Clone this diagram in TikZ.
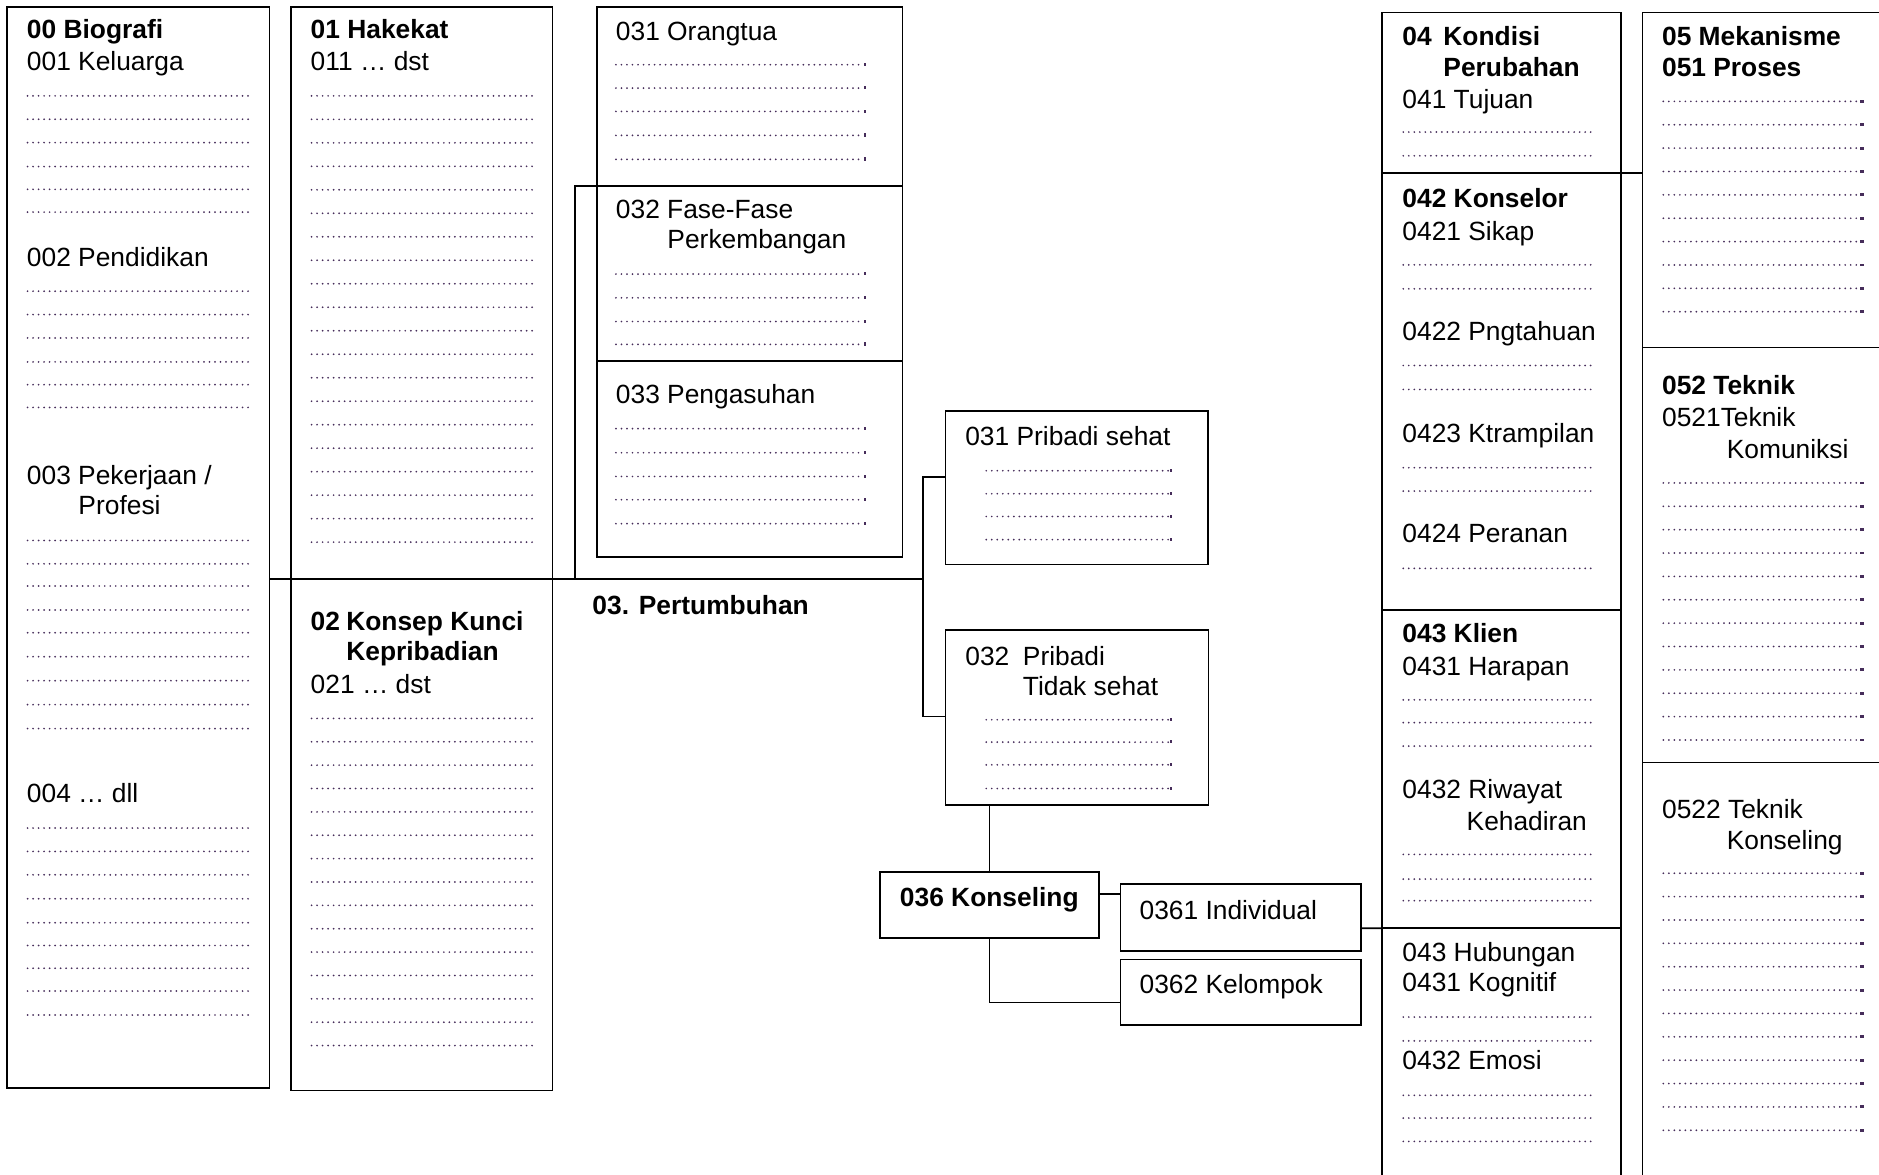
\documentclass[tikz,border=0pt]{standalone}
\usepackage{fontspec}
\setmainfont{Liberation Sans}
\usetikzlibrary{fit}
\definecolor{dotc}{RGB}{70,45,90}
\newcommand{\fs}{\fontsize{22}{26}\selectfont}
\tikzset{
  box/.style={draw, line width=1.4pt, inner sep=0pt, outer sep=0pt},
  txt/.style={anchor=base west, inner sep=0pt, outer sep=0pt, font=\fs},
  btxt/.style={txt, font=\fs\bfseries},
  leader/.style={draw=dotc, line width=1.6pt, dash pattern=on 0pt off 4.6pt, line cap=round},
  conn/.style={draw, line width=1.4pt}
}
\newcommand{\mkbox}[5]{\node[box, fit={(#2,#3)(#4,#5)}] (#1) {};}
\newcommand{\mktxt}[4]{\node[txt] (#1) at (#2,#3) {#4};}
\newcommand{\mkbold}[4]{\node[btxt] (#1) at (#2,#3) {#4};}
\newcommand{\dotrows}[3]{\foreach \yy in {#3} {\draw[leader] (#1,\yy) -- (#2,\yy);}}
\newcommand{\dotrowsend}[3]{\foreach \yy in {#3} {\draw[leader] (#1,\yy) -- (#2,\yy); \fill[dotc] (#2+1.2,\yy-1.6) rectangle (#2+3,\yy+1);}}
\newcommand{\dotrowssq}[3]{\foreach \yy in {#3} {\draw[leader] (#1,\yy) -- (#2,\yy); \fill[dotc] (#2+2.5,\yy-1.2) rectangle (#2+5.5,\yy+1.2);}}
\begin{document}
\begin{tikzpicture}[x=1pt,y=-1pt]
\useasboundingbox (0,0) rectangle (1568,980);
\clip (0,0) rectangle (1568,980);

% ---------- boxes ----------
\mkbox{b00}{6}{6}{225}{908}
\mkbox{b01}{243}{6}{461}{483}
\mkbox{b02}{243}{483}{461}{910}
\mkbox{b031}{498}{6}{753}{155}
\mkbox{b032}{498}{155}{753}{301}
\mkbox{b033}{498}{301}{753}{465}
\mkbox{ps}{789}{343}{1008}{471}
\mkbox{pts}{789}{525.5}{1008.5}{671.5}
\mkbox{kon}{734.5}{727.8}{917}{782.6}
\mkbox{ind}{935}{737.8}{1136}{793.5}
\mkbox{kel}{935}{800.6}{1136}{855.5}
\mkbox{b04a}{1153.5}{10.5}{1352.6}{144.4}
\mkbox{b042}{1153.5}{144.4}{1352.6}{508.8}
\mkbox{b043}{1153.5}{508.8}{1352.6}{774.6}
\mkbox{b043h}{1153.5}{774.6}{1352.6}{1000}
\mkbox{b05a}{1370.6}{10.5}{1600}{290}
\mkbox{b052}{1370.6}{290}{1600}{636.3}
\mkbox{b0522}{1370.6}{636.3}{1600}{1000}

% ---------- connectors ----------
\coordinate (hub) at (770.5,483);
\coordinate (k480) at (480,483);
\draw[conn] (b00.east |- hub) -- (hub);
\draw[conn] (b032.north west) -| (k480);
\draw[conn] (ps.north west) ++(0,55) -| (hub);
\draw[conn] (pts.north west) ++(0,72.5) -| (hub);
\draw[conn] (kon.north) -- (kon.north |- pts.south);
\path (kon.north east) ++(0,18.2) coordinate (c1);
\draw[conn] (c1) -- (c1 -| ind.west);
\draw[conn] (kon.south) |- ([yshift=-8.6pt]kel.west);
\draw[conn] ([yshift=-9pt]ind.east) -- (b043h.north west);
\draw[conn] (b04a.south east) -- (b04a.south east -| b05a.west);

% ---------- column 00 ----------
\mkbold{t00}{22.5}{32}{00 Biografi}
\mktxt{t001}{22.5}{59}{001 Keluarga}
\dotrows{23}{211}{80,99.5,119,139,158,177}
\mktxt{t002}{22.5}{222}{002 Pendidikan}
\dotrows{23}{211}{243,262.5,282,302,321,340}
\mktxt{t003}{22.5}{404}{003 Pekerjaan /}
\mktxt{t003b}{65.5}{429.5}{Profesi}
\dotrows{23}{211}{451,470.5,489,509,528,548,568,588,608}
\mktxt{t004}{22.5}{669.7}{004 … dll}
\dotrows{23}{211}{691,710.5,730,750,770,789,808,827,847}

% ---------- column 01 / 02 ----------
\mkbold{t01}{259.3}{32}{01 Hakekat}
\mktxt{t011}{259.3}{59}{011 … dst}
\dotrows{260}{448}{80,99.6,...,453}
\mkbold{t02}{259.3}{526}{02}
\mkbold{t02b}{289}{526}{Konsep Kunci}
\mkbold{t02c}{289}{551.5}{Kepribadian}
\mktxt{t021}{259.3}{578.3}{021 … dst}
\dotrows{260}{448}{599.5,619,...,873}

% ---------- column 03 ----------
\mktxt{t031}{514}{33.5}{031 Orangtua}
\dotrowsend{514}{720}{54,73.5,93,113,133}
\mktxt{t032}{514}{182}{032 Fase-Fase}
\mktxt{t032b}{557}{207.6}{Perkembangan}
\dotrowsend{514}{720}{228.7,248.5,268.3,287.4}
\mktxt{t033}{514}{337}{033 Pengasuhan}
\dotrowsend{514}{720}{357.7,377.8,397.6,417,437}
\mkbold{t03}{494.4}{513}{03. Pertumbuhan}

\mktxt{tps}{805.5}{372}{031 Pribadi sehat}
\dotrowsend{823}{975}{392.8,412,431,450.3}
\mktxt{tpts}{805.6}{555}{032}
\mktxt{tptsb}{853.6}{555}{Pribadi}
\mktxt{tptsc}{853.6}{580}{Tidak sehat}
\dotrowsend{823}{975}{600.6,619.3,638.2,658}

\mkbold{tkon}{751}{756.5}{036 Konseling}
\mktxt{tind}{951}{767.3}{0361 Individual}
\mktxt{tkel}{951}{829.4}{0362 Kelompok}

% ---------- column 04 ----------
\mkbold{t04}{1170.3}{38.3}{04}
\mkbold{t04b}{1204.5}{38.3}{Kondisi}
\mkbold{t04c}{1204.5}{63.9}{Perubahan}
\mktxt{t041}{1170.3}{90.4}{041 Tujuan}
\dotrows{1171}{1331}{110.2,130}
\mkbold{t042}{1170.3}{173.4}{042 Konselor}
\mktxt{t0421}{1170.3}{200.6}{0421 Sikap}
\dotrows{1171}{1331}{221,241}
\mktxt{t0422}{1170.3}{284.2}{0422 Pngtahuan}
\dotrows{1171}{1331}{305,325}
\mktxt{t0423}{1170.3}{369.5}{0423 Ktrampilan}
\dotrows{1171}{1331}{390.3,409.8}
\mktxt{t0424}{1170.3}{452.9}{0424 Peranan}
\dotrows{1171}{1331}{474.3}
\mkbold{t043}{1170.3}{536}{043 Klien}
\mktxt{t0431}{1170.3}{563.7}{0431 Harapan}
\dotrows{1171}{1331}{584,603,622.6}
\mktxt{t0432}{1170.3}{666.6}{0432 Riwayat}
\mktxt{t0432b}{1223.9}{692.8}{Kehadiran}
\dotrows{1171}{1331}{713,733.6,751.6}
\mktxt{t043h}{1170.3}{802.2}{043 Hubungan}
\mktxt{t0431h}{1170.3}{827.4}{0431 Kognitif}
\dotrows{1171}{1331}{848.7,868.6}
\mktxt{t0432h}{1170.3}{892.8}{0432 Emosi}
\dotrows{1171}{1331}{914,933,952.5}

% ---------- column 05 ----------
\mkbold{t05}{1387}{38.3}{05 Mekanisme}
\mkbold{t051}{1387}{63.9}{051 Proses}
\dotrowssq{1388}{1550}{84.6,104.1,...,262}
\mkbold{t052}{1387}{329}{052 Teknik}
\mktxt{t0521}{1387}{356.1}{0521Teknik}
\mktxt{t0521b}{1441}{382.3}{Komuniksi}
\dotrowssq{1388}{1550}{403,422.5,...,619}
\mktxt{t0522}{1387}{683}{0522 Teknik}
\mktxt{t0522b}{1441}{709}{Konseling}
\dotrowssq{1388}{1550}{728.7,748.2,...,944}
\end{tikzpicture}
\end{document}
